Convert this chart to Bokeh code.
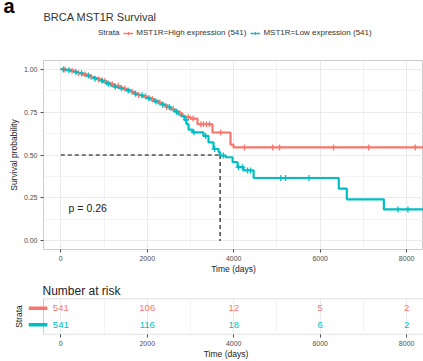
import numpy as np
from bokeh.plotting import figure
from bokeh.models import (Range1d, Legend, LegendItem, Label, FixedTicker,
                          ColumnDataSource)
from bokeh.embed import file_html
from bokeh.resources import INLINE

FONT = "Liberation Sans"
RED = "#F8766D"
TEAL = "#00BFC4"

# Kaplan-Meier estimates: event times (days) and survival after each event
high_times = [0, 40, 130, 225, 317, 410, 500, 595, 687, 780, 872, 965, 1057,
              1150, 1242, 1335, 1427, 1520, 1612, 1705, 1797, 1890, 1982,
              2075, 2167, 2260, 2352, 2445, 2537, 2630, 2722, 2815, 2884,
              3000, 3162, 3508, 3925, 3995, 8500]
high_surv = [1.0, 0.998, 0.994, 0.99, 0.983, 0.976, 0.969, 0.962, 0.954,
             0.948, 0.94, 0.93, 0.92, 0.912, 0.903, 0.893, 0.886, 0.876,
             0.868, 0.857, 0.849, 0.841, 0.833, 0.825, 0.815, 0.805, 0.794,
             0.779, 0.767, 0.755, 0.742, 0.728, 0.72, 0.712, 0.679, 0.631,
             0.56, 0.544, 0.544]

low_times = [0, 40, 130, 225, 317, 410, 500, 595, 687, 780, 872, 965, 1057,
             1150, 1242, 1335, 1427, 1520, 1612, 1705, 1797, 1890, 1982, 2075,
             2167, 2260, 2352, 2445, 2537, 2630, 2722, 2790, 2861, 2907, 2955,
             3046, 3300, 3417, 3533, 3650, 3685, 3812, 3974, 4090, 4226, 4461,
             6430, 6616, 7473, 8500]
low_surv = [1.0, 0.998, 0.994, 0.99, 0.983, 0.976, 0.969, 0.962, 0.953,
            0.944, 0.934, 0.925, 0.914, 0.905, 0.897, 0.889, 0.884, 0.876,
            0.868, 0.856, 0.848, 0.84, 0.831, 0.822, 0.811, 0.8, 0.792, 0.78,
            0.766, 0.752, 0.736, 0.724, 0.705, 0.68, 0.648, 0.632, 0.611,
            0.573, 0.535, 0.517, 0.497, 0.487, 0.458, 0.429, 0.41, 0.366,
            0.304, 0.242, 0.183, 0.183]

# censored observations (days)
high_censor = [95, 260, 410, 560, 700, 880, 1020, 1190, 1330, 1480, 1650,
               1800, 1960, 2120, 2290, 2450, 2600, 2760, 2950, 3060, 3240,
               3300, 3370, 3440, 3700, 4250, 4900, 5060, 6310, 7120, 8200]
low_censor = [60, 190, 350, 480, 640, 790, 950, 1100, 1260, 1400, 1560, 1730,
              1880, 2040, 2200, 2360, 2510, 2680, 2900, 3080, 3350, 3560,
              3760, 4110, 4200, 4320, 4390, 5090, 5200, 5740, 7800, 8030]

# number at risk table
risk_times = [0, 2000, 4000, 6000, 8000]
risk_high = [541, 106, 12, 5, 2]
risk_low = [541, 116, 18, 6, 2]

strata_labels = ["MST1R=High expression (541)", "MST1R=Low expression (541)"]
title_text = "BRCA MST1R Survival"
p_value_text = "p = 0.26"
time_ticks = [0, 2000, 4000, 6000, 8000]
time_minor = [1000, 3000, 5000, 7000]
surv_ticks = [0, 0.25, 0.5, 0.75, 1.0]


def surv_at(times, surv, t):
    idx = np.searchsorted(np.asarray(times), np.asarray(t), side="right") - 1
    return np.asarray(surv)[idx]


def style_axes(fig):
    for ax in (fig.xaxis[0], fig.yaxis[0]):
        ax.axis_line_color = None
        ax.major_tick_line_color = "#4D4D4D"
        ax.major_tick_out = 3
        ax.major_tick_in = 0
        ax.minor_tick_line_color = None
        ax.major_label_text_font = FONT
        ax.major_label_text_font_size = "7px"
        ax.major_label_text_color = "#4D4D4D"
        ax.major_label_standoff = 2
        ax.axis_label_text_font = FONT
        ax.axis_label_text_font_size = "8.5px"
        ax.axis_label_text_font_style = "normal"
        ax.axis_label_text_color = "#222222"
    fig.outline_line_color = "#CCCCCC"
    fig.xgrid.grid_line_color = "#EBEBEB"
    fig.ygrid.grid_line_color = "#EBEBEB"
    fig.xgrid.minor_grid_line_color = "#F3F3F3"
    fig.ygrid.minor_grid_line_color = "#F3F3F3"
    fig.background_fill_color = "white"
    fig.border_fill_color = "white"


# ---- header: panel tag, title and strata legend ----
head = figure(width=423, height=45, x_range=Range1d(0, 423), y_range=Range1d(45, 0),
              x_axis_type=None, y_axis_type=None, output_backend="svg",
              toolbar_location=None, min_border=0)
head.grid.visible = False
head.outline_line_color = None
head.background_fill_color = "white"
head.border_fill_color = "white"

head.add_layout(Label(x=3, y=5, text="a", text_font=FONT, text_font_size="20px",
                      text_font_style="bold", text_color="black",
                      text_baseline="alphabetic"))
head.add_layout(Label(x=43, y=16.5, text=title_text, text_font=FONT,
                      text_font_size="11px", text_color="#333333",
                      text_baseline="middle"))

# legend keys sit off-screen; only their swatches appear in the legend
key_blank = head.line([-20, -10], [-20, -20], line_alpha=0)
key_high = head.line([-20, -10], [-20, -20], line_color=RED, line_width=1.5)
key_high_c = head.scatter([-15], [-20], marker="cross", size=6, line_color=RED)
key_low = head.line([-20, -10], [-20, -20], line_color=TEAL, line_width=1.5)
key_low_c = head.scatter([-15], [-20], marker="cross", size=6, line_color=TEAL)
legend = Legend(items=[LegendItem(label="Strata", renderers=[key_blank]),
                       LegendItem(label=strata_labels[0], renderers=[key_high, key_high_c]),
                       LegendItem(label=strata_labels[1], renderers=[key_low, key_low_c])],
                orientation="horizontal", location=(85, 8))
legend.label_text_font = FONT
legend.label_text_font_size = "8px"
legend.label_text_color = "#333333"
legend.glyph_width = 10
legend.glyph_height = 8
legend.label_standoff = 3
legend.spacing = 4
legend.padding = 0
legend.margin = 0
legend.border_line_color = None
legend.background_fill_alpha = 0
head.add_layout(legend)

# ---- survival curves ----
p = figure(width=423, height=231, x_range=Range1d(-400, 8390),
           y_range=Range1d(-0.05, 1.05), output_backend="svg",
           toolbar_location=None, min_border_left=43, min_border_right=0,
           min_border_top=15, min_border_bottom=24)
style_axes(p)
p.xaxis.ticker = FixedTicker(ticks=time_ticks, minor_ticks=time_minor)
p.yaxis.ticker = FixedTicker(ticks=surv_ticks, minor_ticks=[0.125, 0.375, 0.625, 0.875])
p.yaxis.major_label_overrides = {0: "0.00", 0.25: "0.25", 0.5: "0.50",
                                 0.75: "0.75", 1.0: "1.00"}
p.xaxis.axis_label = "Time (days)"
p.yaxis.axis_label = "Survival probability"
p.xaxis.axis_label_standoff = 0
p.yaxis.axis_label_standoff = 2

# median survival of the low-expression group
low_arr = np.asarray(low_surv)
median_low = low_times[int(np.argmax(low_arr <= 0.5))]
p.line([0, median_low], [0.5, 0.5], line_color="black", line_width=1.1,
       line_dash="4 3")
p.line([median_low, median_low], [0.5, 0.0], line_color="black",
       line_width=1.1, line_dash="4 3")

p.step(high_times, high_surv, mode="after", line_color=RED, line_width=2.2)
p.step(low_times, low_surv, mode="after", line_color=TEAL, line_width=2.2)

p.scatter(high_censor, surv_at(high_times, high_surv, high_censor),
          marker="cross", size=6, line_color=RED, line_width=1.3)
p.scatter(low_censor, surv_at(low_times, low_surv, low_censor),
          marker="cross", size=6, line_color=TEAL, line_width=1.3)

p.add_layout(Label(x=180, y=0.19, text=p_value_text, text_font=FONT,
                   text_font_size="10.5px", text_baseline="middle",
                   text_color="#222222"))

# ---- number at risk table ----
# the frame starts 15 px left of the panel so the strata keys can be drawn
r = figure(width=423, height=85, x_range=Range1d(-747, 8390),
           y_range=Range1d(0.42, 2.58), output_backend="svg",
           toolbar_location=None, min_border_left=28, min_border_right=0,
           min_border_top=22, min_border_bottom=22, title="Number at risk")
r.title.text_font = FONT
r.title.text_font_size = "12px"
r.title.text_font_style = "normal"
r.title.text_color = "#222222"
r.title.standoff = 2
r.title.offset = 14
style_axes(r)
r.outline_line_color = None
r.ygrid.visible = False
r.xaxis.ticker = FixedTicker(ticks=time_ticks, minor_ticks=time_minor)
r.xaxis.axis_label = "Time (days)"
r.xaxis.axis_label_standoff = 0
r.xaxis.bounds = (-400, 8390)
r.yaxis.ticker = FixedTicker(ticks=[1, 2])
r.yaxis.major_label_overrides = {1: "", 2: ""}
r.yaxis.major_tick_out = 0
r.yaxis.major_label_standoff = 0
r.yaxis.axis_label = "Strata"
r.yaxis.axis_label_standoff = 5

# panel border
r.quad(left=-400, right=8600, bottom=0.43, top=2.57, fill_color=None,
       line_color="#CCCCCC", line_width=1)

# strata keys on the left of each row
r.segment(x0=[-747, -747], x1=[-310, -310], y0=[2, 1], y1=[2, 1],
          line_color=[RED, TEAL], line_width=3.5)

risk_src = ColumnDataSource(dict(
    x=risk_times + risk_times,
    y=[2] * len(risk_times) + [1] * len(risk_times),
    label=[str(v) for v in risk_high] + [str(v) for v in risk_low],
    color=[RED] * len(risk_times) + [TEAL] * len(risk_times)))
r.text(x="x", y="y", text="label", text_color="color", source=risk_src,
       text_align="center", text_baseline="middle", text_font_size="9.5px",
       text_font={"value": FONT})

# three stacked roots, each keeping its own frame placement
open("out.html", "w").write(file_html([head, p, r], INLINE))
